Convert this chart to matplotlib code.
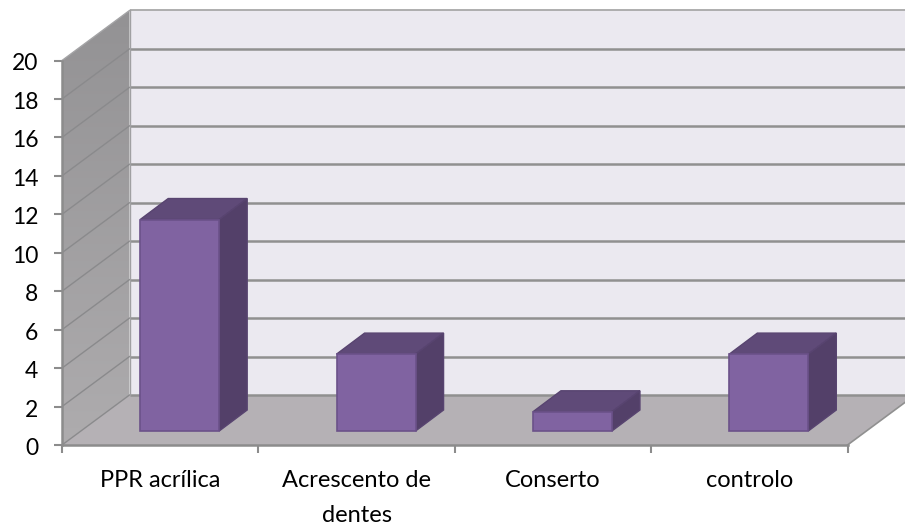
import numpy as np
import matplotlib
matplotlib.use("Agg")
import matplotlib.pyplot as plt
from matplotlib.patches import Polygon
from matplotlib.transforms import ScaledTranslation

categories = ["PPR acrílica", "Acrescento de\ndentes", "Conserto", "controlo"]
values = [11, 4, 1, 4]
y_ticks = list(range(0, 21, 2))

W, H = 905, 526
X0, X1, Y0, Y20 = 62.0, 847.5, 445.0, 60.5
plt.rcParams["font.family"] = ["Lato", "DejaVu Sans"]

fig = plt.figure(figsize=(W / 100, H / 100), dpi=100)
ax = fig.add_axes([X0 / W, 1 - Y0 / H, (X1 - X0) / W, (Y0 - Y20) / H])
ax.set_xlim(0, 4)
ax.set_ylim(0, 20)

ux = (X1 - X0) / 4          # px per category
uy = (Y0 - Y20) / 20        # px per value unit
DX, DY = 67.5 / ux, 50 / uy  # chart depth in data units
GRID = "#909090"

# Side wall with gradient
side = Polygon([(0, 0), (DX, DY), (DX, 20 + DY), (0, 20)], closed=True,
               transform=ax.transData, fc="none", ec="none", clip_on=False)
ax.add_patch(side)
grad = np.linspace(0, 1, 256).reshape(-1, 1)
im = ax.imshow(grad, extent=(0, DX, 0, 20 + DY), origin="upper", aspect="auto",
               cmap=matplotlib.colors.LinearSegmentedColormap.from_list(
                   "w", ["#939294", "#aeacae"]), zorder=1)
im.set_clip_box(fig.bbox)
im.set_clip_path(side)
ax.set_xlim(0, 4)
ax.set_ylim(0, 20)

# Back wall and floor
ax.fill([DX, 4 + DX, 4 + DX, DX], [DY, DY, 20 + DY, 20 + DY], fc="#ebe9f0",
        ec="none", clip_on=False, zorder=1)
ax.fill([0, DX, 4 + DX, 4], [0, DY, DY, 0], fc="#b5b1b5", ec="none",
        clip_on=False, zorder=1.5)

# Gridlines
for t in y_ticks:
    ax.plot([0, DX], [t, t + DY], color="#8a8a8c" if t < 20 else "#a4a4a6", lw=1.0,
            clip_on=False, zorder=2)
    ax.plot([DX, 4 + DX], [t + DY, t + DY], color=GRID if t < 20 else "#a8a8a8",
            lw=1.8 if t < 20 else 1.3, clip_on=False, zorder=1.8,
            solid_capstyle="butt")
ax.plot([DX, DX], [DY, 20 + DY], color="#a0a0a2", lw=1.0, clip_on=False, zorder=2)
ax.plot([4, 4 + DX], [0, DY], color=GRID, lw=1.2, clip_on=False, zorder=2)

# Bars
positions = np.arange(len(values)) + 0.5
bw = 79 / ux
front = 14 / uy
shift = 19.5 / ux
bdx, bdy = 28 / ux, 21 / uy
xs = positions + shift
edge = "#6b5189"
for x, v in zip(xs, values):
    l, r = x - bw / 2, x + bw / 2
    top = front + v
    ax.fill([l, l + bdx, r + bdx, r], [top, top + bdy, top + bdy, top],
            fc="#5f4a78", ec="#584470", lw=1, zorder=3, clip_on=False)
    ax.fill([r, r + bdx, r + bdx, r], [front, front + bdy, top + bdy, top],
            fc="#534069", ec="#584470", lw=1, zorder=3, clip_on=False)
ax.bar(xs, values, width=bw, bottom=front, color="#8063a1", edgecolor=edge,
       linewidth=1.2, zorder=4, clip_on=False)

# Axes
for s in ("top", "right"):
    ax.spines[s].set_visible(False)
for s in ("left", "bottom"):
    ax.spines[s].set_color("#8c8c8c")
    ax.spines[s].set_linewidth(1.8)
    ax.spines[s].set_zorder(5)
ax.set_yticks(y_ticks)
ax.set_xticks(range(5))
ax.set_xticklabels([])
ax.tick_params(axis="both", length=6, width=1.5, color="#8c8c8c")
ax.tick_params(axis="y", labelsize=16.5, pad=11, labelcolor="black")
down = ScaledTranslation(0, -1.5 / 100, fig.dpi_scale_trans)
for lab in ax.get_yticklabels():
    lab.set_transform(lab.get_transform() + down)

for p, c in zip(positions, categories):
    ax.annotate(c, (p, 0), xytext=(0, -18), textcoords="offset points",
                ha="center", va="top", fontsize=17, linespacing=1.82,
                annotation_clip=False)

fig.savefig("out.png", dpi=100)
